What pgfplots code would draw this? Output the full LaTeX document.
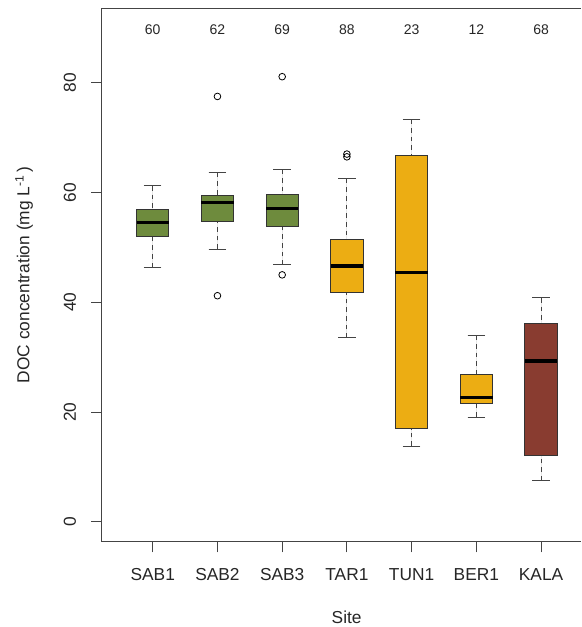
\documentclass[border=0pt]{standalone}
\usepackage{pgfplots}
\pgfplotsset{compat=1.18}
\usepgfplotslibrary{statistics}
\usepackage{fontspec}
\setmainfont{Liberation Sans}
\definecolor{boxgreen}{HTML}{6E8B3D}
\definecolor{boxgold}{HTML}{ECAD13}
\definecolor{boxred}{HTML}{893C30}
\definecolor{axgray}{HTML}{444444}
\begin{document}
\begin{tikzpicture}
\useasboundingbox (0,0) rectangle (435.75pt,470.25pt);
\begin{axis}[
  at={(76.3pt,64.0pt)}, anchor=south west,
  scale only axis, width=359.5pt, height=400.2pt,
  xmin=0.212, xmax=7.618, ymin=-3.6, ymax=93.6,
  axis y line*=left, axis x line*=box,
  axis line style={axgray, line width=0.75pt},
  every tick/.style={axgray, line width=0.75pt},
  tick align=outside, major tick length=8pt,
  xtick pos=bottom, ytick pos=left,
  xtick={1,2,3,4,5,6,7},
  xticklabels={SAB1,SAB2,SAB3,TAR1,TUN1,BER1,KALA},
  ytick={0,20,40,60,80},
  /pgf/number format/assume math mode=true,
  ticklabel style={font=\fontsize{13}{15}\selectfont, text=black!85},
  yticklabel style={rotate=90, anchor=south, inner sep=0pt},
  xticklabel style={anchor=north, inner sep=0pt},
  xticklabel shift=12pt, yticklabel shift=11pt,
  clip=false,
  every axis y label/.style={at={(axis description cs:-0.162,0.5)}, rotate=90, anchor=center, font=\fontsize{13}{15}\selectfont, text=black!85},
  every axis x label/.style={at={(axis description cs:0.511,-0.141)}, anchor=center, font=\fontsize{13}{15}\selectfont, text=black!85},
  ylabel={DOC concentration (mg L\textsuperscript{-1}\,)},
  xlabel={Site},
  boxplot/draw direction=y,
  boxplot/box extend=0.5,
  boxplot/whisker extend=0.27,
  boxplot/every whisker/.style={axgray, line width=0.75pt},
  boxplot/every box/.style={draw=black!80, line width=0.75pt},
  boxplot/every median/.style={black, line width=2.4pt},
  boxplot/draw/lower whisker/.code={%
    \draw[/pgfplots/boxplot/every whisker, dash pattern=on 3.5pt off 3pt]
      (boxplot box cs:\pgfplotsboxplotvalue{lower whisker},0.5) -- (boxplot box cs:\pgfplotsboxplotvalue{lower quartile},0.5);
    \draw[/pgfplots/boxplot/every whisker]
      (boxplot whisker cs:\pgfplotsboxplotvalue{lower whisker},0) -- (boxplot whisker cs:\pgfplotsboxplotvalue{lower whisker},1);
  },
  boxplot/draw/upper whisker/.code={%
    \draw[/pgfplots/boxplot/every whisker, dash pattern=on 3.5pt off 3pt]
      (boxplot box cs:\pgfplotsboxplotvalue{upper whisker},0.5) -- (boxplot box cs:\pgfplotsboxplotvalue{upper quartile},0.5);
    \draw[/pgfplots/boxplot/every whisker]
      (boxplot whisker cs:\pgfplotsboxplotvalue{upper whisker},0) -- (boxplot whisker cs:\pgfplotsboxplotvalue{upper whisker},1);
  },
]
% SAB1
\addplot[boxplot prepared={draw position=1, lower whisker=46.4, lower quartile=52.0, median=54.5, upper quartile=56.9, upper whisker=61.2},
  fill=boxgreen, draw=black!80, mark=o, mark size=2.5pt] coordinates {};
% SAB2
\addplot[boxplot prepared={draw position=2, lower whisker=49.7, lower quartile=54.8, median=58.2, upper quartile=59.4, upper whisker=63.6},
  fill=boxgreen, draw=black!80, mark=o, mark size=2.5pt, mark options={fill=white, draw=black, line width=0.6pt}] coordinates {(2,77.5) (2,41.2)};
% SAB3
\addplot[boxplot prepared={draw position=3, lower whisker=46.8, lower quartile=53.9, median=57.1, upper quartile=59.6, upper whisker=64.2},
  fill=boxgreen, draw=black!80, mark=o, mark size=2.5pt, mark options={fill=white, draw=black, line width=0.6pt}] coordinates {(3,81.1) (3,45.0)};
% TAR1
\addplot[boxplot prepared={draw position=4, lower whisker=33.5, lower quartile=41.8, median=46.6, upper quartile=51.5, upper whisker=62.5},
  fill=boxgold, draw=black!80, mark=o, mark size=2.5pt, mark options={fill=white, draw=black, line width=0.6pt}] coordinates {(4,66.5) (4,67.0)};
% TUN1
\addplot[boxplot prepared={draw position=5, lower whisker=13.8, lower quartile=17.0, median=45.4, upper quartile=66.7, upper whisker=73.3},
  fill=boxgold, draw=black!80, mark=o, mark size=2.5pt] coordinates {};
% BER1
\addplot[boxplot prepared={draw position=6, lower whisker=19.1, lower quartile=21.6, median=22.6, upper quartile=26.8, upper whisker=34.0},
  fill=boxgold, draw=black!80, mark=o, mark size=2.5pt] coordinates {};
% KALA
\addplot[boxplot prepared={draw position=7, lower whisker=7.5, lower quartile=12.1, median=29.3, upper quartile=36.1, upper whisker=40.8},
  fill=boxred, draw=black!80, mark=o, mark size=2.5pt] coordinates {};
% sample counts
\foreach \x/\n in {1/60,2/62,3/69,4/88,5/23,6/12,7/68}{
  \edef\tmp{\noexpand\node[font=\noexpand\fontsize{10.5}{12}\noexpand\selectfont, text=black!85] at (axis cs:\x,89.6) {\n};}\tmp
}
\end{axis}
\end{tikzpicture}
\end{document}
